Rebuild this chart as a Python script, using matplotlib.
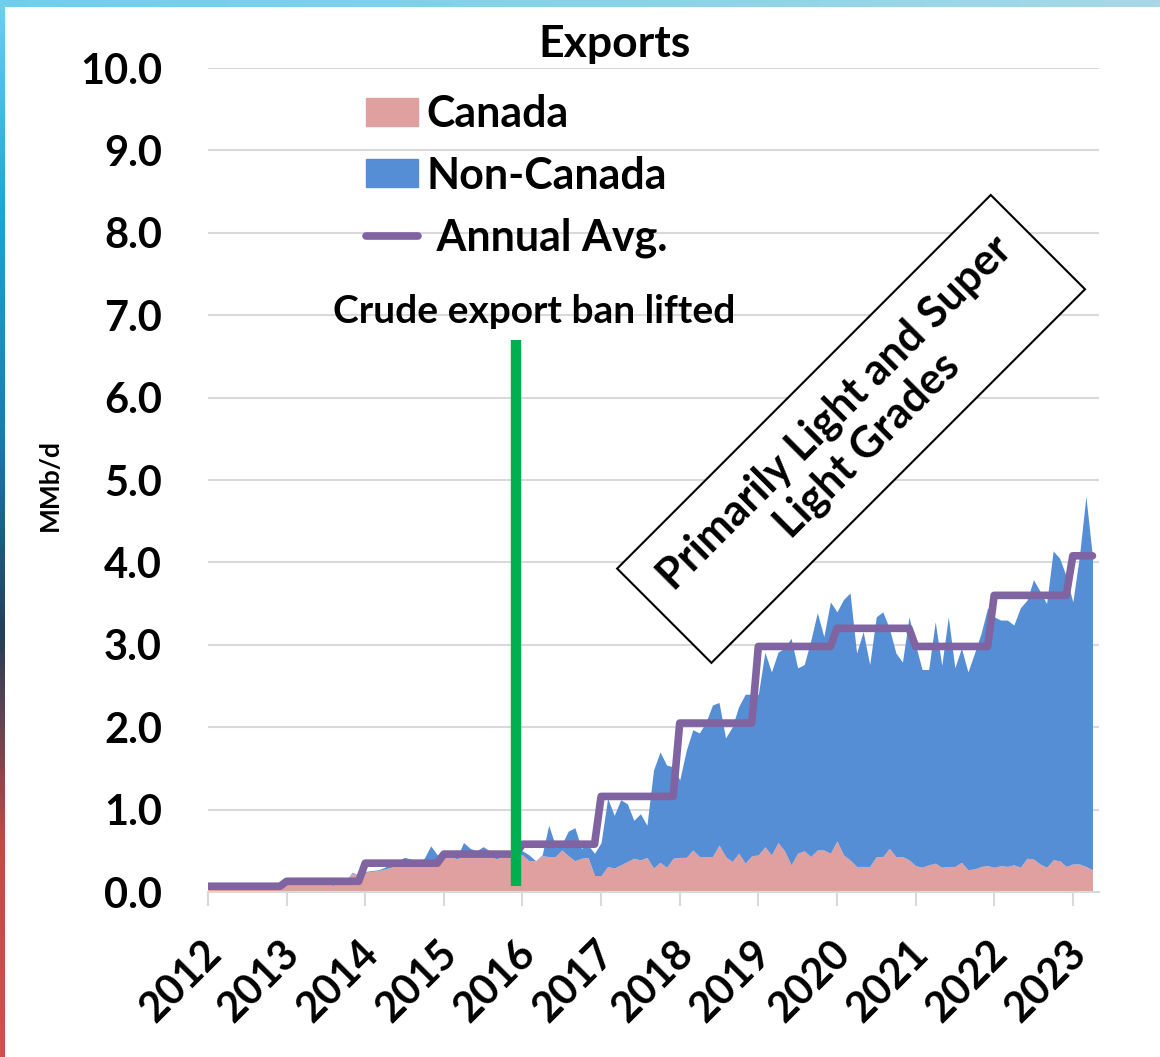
"""
Exports chart: Canada vs Non-Canada crude exports with annual average.
"""

import matplotlib
matplotlib.use('Agg')
import matplotlib.pyplot as plt
import matplotlib.transforms as mtransforms
from matplotlib.patches import Patch
from matplotlib.lines import Line2D
from matplotlib.colors import LinearSegmentedColormap
import numpy as np

plt.rcParams['font.family'] = ['Lato', 'DejaVu Sans']
plt.rcParams['font.weight'] = 'bold'

# Monthly data, Jan 2012 - Apr 2023 (MMb/d)
start_year = 2012
canada = [
    0.06, 0.06, 0.06, 0.06, 0.06, 0.06, 0.06, 0.06, 0.06, 0.06, 0.07, 0.07,   # 2012
    0.09, 0.10, 0.10, 0.11, 0.11, 0.11, 0.11, 0.08, 0.10, 0.12, 0.23, 0.19,   # 2013
    0.24, 0.25, 0.26, 0.28, 0.30, 0.33, 0.36, 0.36, 0.33, 0.37, 0.40, 0.38,   # 2014
    0.45, 0.44, 0.40, 0.46, 0.47, 0.46, 0.47, 0.45, 0.40, 0.44, 0.42, 0.44,   # 2015
    0.45, 0.38, 0.38, 0.44, 0.43, 0.43, 0.51, 0.44, 0.38, 0.41, 0.42, 0.20,   # 2016
    0.20, 0.31, 0.29, 0.33, 0.37, 0.41, 0.39, 0.42, 0.29, 0.36, 0.30, 0.41,   # 2017
    0.42, 0.42, 0.51, 0.43, 0.43, 0.43, 0.57, 0.43, 0.37, 0.47, 0.35, 0.44,   # 2018
    0.45, 0.55, 0.45, 0.60, 0.50, 0.33, 0.47, 0.50, 0.43, 0.51, 0.51, 0.47,   # 2019
    0.62, 0.45, 0.39, 0.31, 0.31, 0.31, 0.43, 0.43, 0.53, 0.43, 0.43, 0.39,   # 2020
    0.32, 0.30, 0.33, 0.35, 0.30, 0.31, 0.31, 0.36, 0.27, 0.28, 0.31, 0.32,   # 2021
    0.30, 0.32, 0.31, 0.33, 0.30, 0.41, 0.40, 0.34, 0.30, 0.39, 0.38, 0.31,   # 2022
    0.34, 0.34, 0.31, 0.27,                                                   # 2023
]
total_exports = [
    0.06, 0.06, 0.07, 0.07, 0.07, 0.07, 0.07, 0.07, 0.07, 0.07, 0.08, 0.08,   # 2012
    0.10, 0.11, 0.11, 0.12, 0.12, 0.12, 0.12, 0.09, 0.11, 0.13, 0.24, 0.20,   # 2013
    0.25, 0.26, 0.27, 0.30, 0.37, 0.38, 0.42, 0.40, 0.35, 0.41, 0.56, 0.45,   # 2014
    0.51, 0.47, 0.42, 0.60, 0.53, 0.50, 0.55, 0.50, 0.43, 0.48, 0.45, 0.48,   # 2015
    0.50, 0.45, 0.38, 0.45, 0.81, 0.57, 0.58, 0.74, 0.78, 0.53, 0.57, 0.47,   # 2016
    0.60, 1.14, 0.93, 1.12, 1.07, 0.87, 0.95, 0.81, 1.48, 1.70, 1.54, 1.52,   # 2017
    1.36, 1.72, 1.97, 1.93, 2.06, 2.27, 2.30, 1.87, 2.00, 2.25, 2.40, 2.40,   # 2018
    2.40, 2.91, 2.67, 2.91, 2.96, 3.08, 2.72, 2.76, 3.05, 3.39, 3.10, 3.52,   # 2019
    3.40, 3.55, 3.63, 2.90, 3.16, 2.76, 3.34, 3.40, 3.20, 2.90, 2.79, 3.34,   # 2020
    3.00, 2.70, 2.70, 3.28, 2.75, 3.34, 2.72, 2.96, 2.67, 2.90, 3.14, 3.45,   # 2021
    3.34, 3.30, 3.30, 3.24, 3.45, 3.54, 3.79, 3.65, 3.50, 4.14, 4.05, 3.83,   # 2022
    3.52, 4.07, 4.80, 4.07,                                                   # 2023
]
years = [2012, 2013, 2014, 2015, 2016, 2017, 2018, 2019, 2020, 2021, 2022, 2023]
annual_avg = [0.07, 0.13, 0.35, 0.46, 0.58, 1.16, 2.05, 2.98, 3.20, 2.98, 3.60, 4.08]
months_in_year = [12, 12, 12, 12, 12, 12, 12, 12, 12, 12, 12, 4]
ban_lifted = 2015.92

x = start_year + np.arange(len(canada)) / 12.0
avg_monthly = np.repeat(annual_avg, months_in_year)

c_canada = '#DFA09F'
c_noncan = '#558ED5'
c_avg = '#8064A2'
c_grid = '#D9D9D9'

fig = plt.figure(figsize=(11.6, 10.57), dpi=100)

# slide background edges
left_cmap = LinearSegmentedColormap.from_list(
    'edge', ['#6FD0EC', '#19A6D6', '#1B7FB0', '#233E5A', '#C24A45', '#D05050'])
ax_l = fig.add_axes([0, 0, 5 / 1160, 1])
ax_l.imshow(np.linspace(0, 1, 256)[:, None], aspect='auto', cmap=left_cmap)
ax_l.axis('off')
top_cmap = LinearSegmentedColormap.from_list('top', ['#6FCFEA', '#86D3EA', '#A8D8E6'])
ax_t = fig.add_axes([0, 1 - 7 / 1057, 1, 7 / 1057])
ax_t.imshow(np.linspace(0, 1, 256)[None, :], aspect='auto', cmap=top_cmap)
ax_t.axis('off')

ax = fig.add_axes([208 / 1160, 165 / 1057, 891 / 1160, 824 / 1057])

ax.fill_between(x, 0, canada, color=c_canada, lw=0, zorder=2)
ax.fill_between(x, canada, total_exports, color=c_noncan, lw=0, zorder=2)
ax.plot(x, avg_monthly, color=c_avg, lw=5.5, solid_capstyle='round', zorder=4)

ax.vlines(ban_lifted, 0.07, 6.7, color='#00B050', lw=7.5, zorder=5)
ax.text(2016.15, 7.04, 'Crude export ban lifted', fontsize=28, ha='center',
        va='center', fontweight='bold')

ax.text(2020.18, 5.62, 'Primarily Light and Super\nLight Grades', rotation=45,
        rotation_mode='anchor', ha='center', va='center', multialignment='center',
        fontsize=31, fontweight='bold', linespacing=1.15, zorder=6,
        bbox=dict(boxstyle='square,pad=0.55', fc='white', ec='black', lw=1.5))

ax.set_xlim(2012, 2023 + 4 / 12)
ax.set_ylim(0, 10)
ax.set_yticks(np.arange(0, 10.5, 1.0))
ax.set_yticklabels([f'{v:.1f}' for v in np.arange(0, 10.5, 1.0)])
ax.grid(axis='y', color=c_grid, lw=1.5, zorder=0)
ax.set_axisbelow(True)
for s in ['top', 'right', 'left']:
    ax.spines[s].set_visible(False)
ax.spines['bottom'].set_color(c_grid)
ax.spines['bottom'].set_linewidth(1.5)

ax.set_xticks(years)
ax.set_xticklabels([str(y) for y in years], rotation=45, ha='right',
                   va='center', rotation_mode='anchor')
ax.tick_params(axis='x', length=10, width=1.5, color=c_grid, pad=30, labelsize=30)
ax.tick_params(axis='y', length=0, pad=33, labelsize=30)
offset = mtransforms.ScaledTranslation(5 / 72, 0, fig.dpi_scale_trans)
for lab in ax.get_xticklabels():
    lab.set_transform(lab.get_transform() + offset)

fig.text(0.043, 0.541, 'MMb/d', rotation=90, fontsize=19, fontweight='bold',
         ha='center', va='center')
fig.text(0.530, 0.958, 'Exports', fontsize=32, fontweight='bold',
         ha='center', va='center')

handles = [Patch(color=c_canada), Patch(color=c_noncan),
           Line2D([0], [0], color=c_avg, lw=5.5, solid_capstyle='round')]
ax.legend(handles, ['Canada', 'Non-Canada', ' Annual Avg.'],
          loc='upper left', bbox_to_anchor=(366 / 1160, 1 - 94 / 1057),
          bbox_transform=fig.transFigure, frameon=False, fontsize=31,
          borderpad=0, borderaxespad=0, handlelength=1.2, handleheight=0.62,
          handletextpad=0.2, labelspacing=0.5)

fig.savefig('out.png', dpi=100)
